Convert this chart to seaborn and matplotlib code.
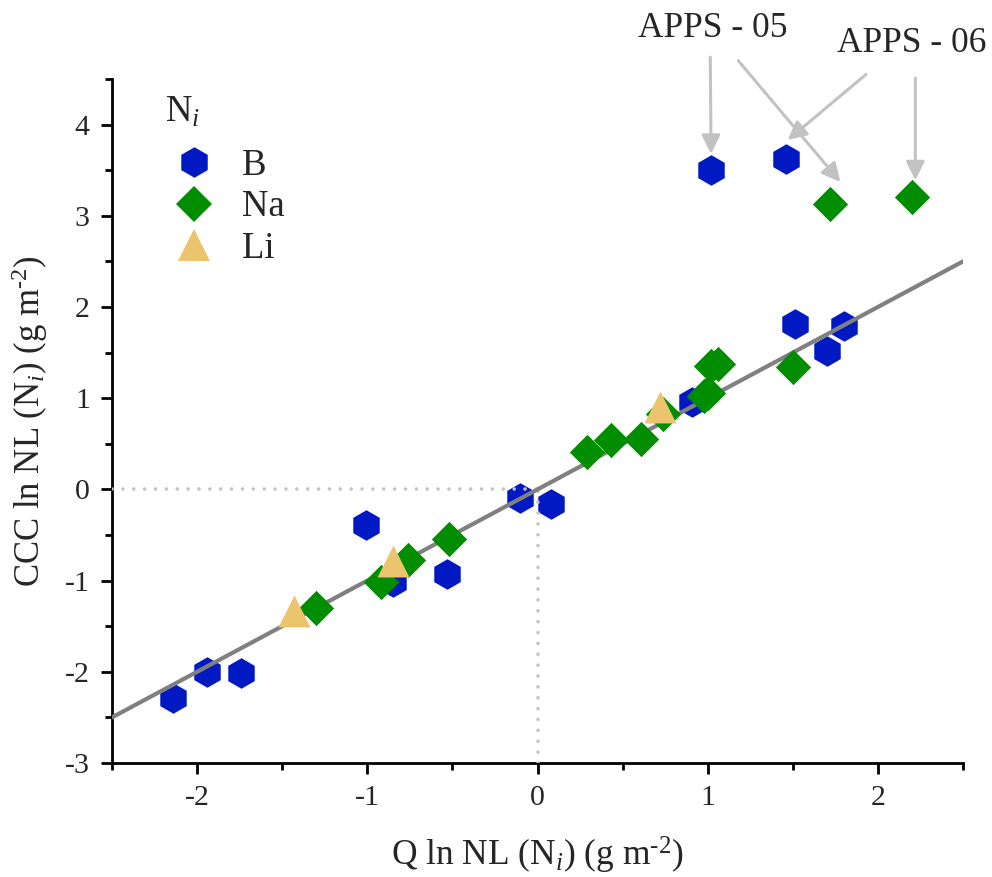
import numpy as np
import pandas as pd
import matplotlib
matplotlib.use("Agg")
import matplotlib.pyplot as plt
import seaborn as sns
from matplotlib.lines import Line2D
from matplotlib.ticker import MultipleLocator

# ---- data ----
b_x = [-2.14, -1.94, -1.74, -1.01, -0.85, -0.53, -0.10, 0.08, 0.91, 1.51, 1.70, 1.80, 1.02, 1.46]
b_y = [-2.29, -2.00, -2.01, -0.39, -1.02, -0.93, -0.09, -0.16, 0.96, 1.81, 1.52, 1.79, 3.50, 3.62]

na_x = [-1.30, -0.92, -0.76, -0.52, 0.29, 0.43, 0.61, 0.74, 0.98, 1.00, 1.02, 1.06, 1.50, 1.72, 2.20]
na_y = [-1.30, -1.02, -0.77, -0.54, 0.41, 0.54, 0.55, 0.83, 1.02, 1.06, 1.35, 1.37, 1.34, 3.13, 3.21]

li_x = [-1.43, -0.85, 0.72]
li_y = [-1.33, -0.79, 0.90]

line_x = [-2.5, 2.5]
line_y = [-2.5, 2.5]

x_ticks = [-2, -1, 0, 1, 2]
y_ticks = [-3, -2, -1, 0, 1, 2, 3, 4]

groups = ["B", "Na", "Li"]
legend_title = "N$_{i}$"
colors = {"B": "#0019C2", "Na": "#008E00", "Li": "#EBC46E"}
markers = {"B": "h", "Na": "D", "Li": "^"}
msize = {"B": 22, "Na": 18, "Li": 23}  # points

ann_labels = ["APPS - 05", "APPS - 06"]
ann_text_pos = [(1.03, 5.05), (2.20, 4.89)]

df = pd.concat([
    pd.DataFrame({"x": b_x, "y": b_y, "Ni": "B"}),
    pd.DataFrame({"x": na_x, "y": na_y, "Ni": "Na"}),
    pd.DataFrame({"x": li_x, "y": li_y, "Ni": "Li"}),
], ignore_index=True)

sns.set_style("ticks")
plt.rcParams["font.family"] = ["Liberation Serif", "DejaVu Serif"]
plt.rcParams["mathtext.fontset"] = "custom"
plt.rcParams["mathtext.rm"] = "Liberation Serif"
plt.rcParams["mathtext.it"] = "Liberation Serif:italic"
plt.rcParams["axes.unicode_minus"] = False

fig = plt.figure(figsize=(9.92, 8.77), dpi=100)
ax = fig.add_axes([112/992, 1-763/877, (963-112)/992, (763-79)/877])

# blue first
sub = df[df.Ni == "B"]
sns.scatterplot(data=sub, x="x", y="y", marker=markers["B"], color=colors["B"],
                s=msize["B"]**2, linewidth=0, ax=ax, zorder=3, legend=False)

# dotted guide lines
dot_kw = dict(color="#C4C4C4", lw=2.6, linestyle=(0, (0.01, 3.0)), dash_capstyle="round", zorder=3.5)
ax.plot([-2.5, 0], [0, 0], **dot_kw)
ax.plot([0, 0], [-3, 0], **dot_kw)

# 1:1 line
sns.lineplot(x=line_x, y=line_y, color="#808080", lw=3, ax=ax, zorder=4)

for g, z in (("Na", 5), ("Li", 6)):
    sub = df[df.Ni == g]
    sns.scatterplot(data=sub, x="x", y="y", marker=markers[g], color=colors[g],
                    s=msize[g]**2, linewidth=0, ax=ax, zorder=z, legend=False)

ax.set_xlim(-2.5, 2.5)
ax.set_ylim(-3, 4.5)
ax.set_xticks(x_ticks)
ax.set_yticks(y_ticks)
ax.xaxis.set_minor_locator(MultipleLocator(0.5))
ax.yaxis.set_minor_locator(MultipleLocator(0.5))
ax.tick_params(which="major", direction="out", length=8, width=2, labelsize=21.5, pad=8, color="black")
ax.tick_params(which="minor", direction="out", length=5, width=2, color="black")
for s in ("left", "bottom"):
    ax.spines[s].set_linewidth(2)
    ax.spines[s].set_color("black")
sns.despine(ax=ax)

ax.set_xlabel("Q ln NL (N$_{i}$) (g m$^{\u20102}$)", fontsize=25.5, labelpad=17)
ax.set_ylabel("CCC ln NL (N$_{i}$) (g m$^{\u20102}$)", fontsize=25, labelpad=11)

# annotations with arrows (targets are data points)
targets = [
    [(b_x[12], b_y[12]), (na_x[13], na_y[13])],
    [(b_x[13], b_y[13]), (na_x[14], na_y[14])],
]
starts = [
    [(1.015, 4.74), (1.18, 4.70)],
    [(1.93, 4.55), (2.22, 4.51)],
]
ends_offset = [
    [(0.0, 0.18), (0.06, 0.24)],
    [(0.01, 0.21), (0.02, 0.18)],
]
arrow_kw = dict(arrowstyle="-|>", color="#C2C2C2", lw=2.2, mutation_scale=28,
                shrinkA=0, shrinkB=0)
for i, lab in enumerate(ann_labels):
    ax.text(ann_text_pos[i][0], ann_text_pos[i][1], lab, fontsize=25.5,
            ha="center", va="center", clip_on=False)
    for (sx, sy), (tx, ty), (ox, oy) in zip(starts[i], targets[i], ends_offset[i]):
        ax.annotate("", xy=(tx + ox, ty + oy), xytext=(sx, sy),
                    arrowprops=arrow_kw, annotation_clip=False)

# legend title as separate text, entries as legend
ax.text(0.062, 0.951, legend_title, transform=ax.transAxes, fontsize=26.5,
        ha="left", va="center")
handles = [Line2D([], [], marker=markers[g], color=colors[g], linestyle="none",
                  markersize=msize[g], markeredgewidth=0) for g in groups]
leg = ax.legend(handles, groups, loc="upper left",
                bbox_to_anchor=(0.062, 0.898), frameon=False, fontsize=26.5,
                handletextpad=0.5, labelspacing=0.18, borderpad=0,
                borderaxespad=0, handlelength=1.6)

fig.savefig("out.png", dpi=100)
